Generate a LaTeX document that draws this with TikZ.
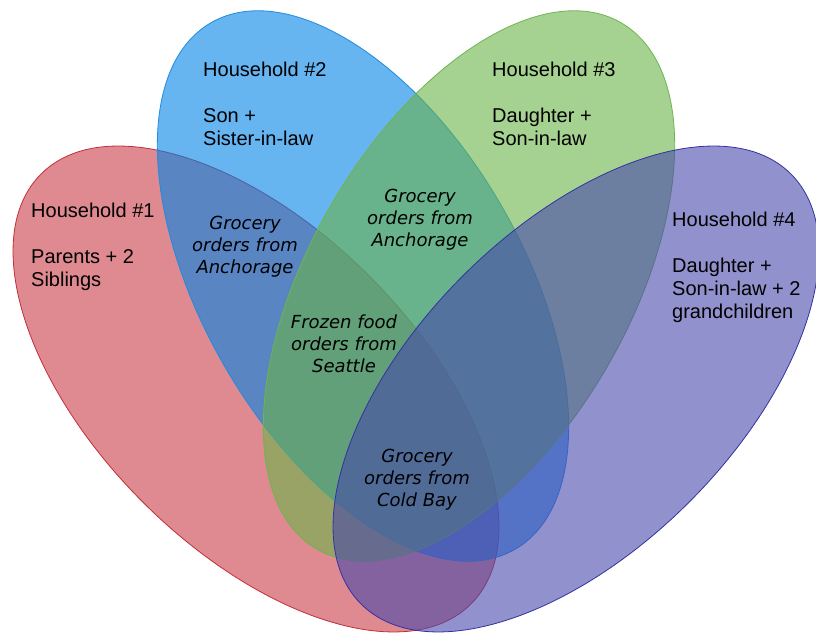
\documentclass[tikz,border=0pt]{standalone}
\usepackage{fontspec}
\setmainfont{Liberation Sans}
\newfontfamily\verd{DejaVu Sans}
\definecolor{redF}{RGB}{200,60,70}
\definecolor{redD}{RGB}{195,45,55}
\definecolor{bluF}{RGB}{0,130,230}
\definecolor{bluD}{RGB}{30,140,225}
\definecolor{grnF}{RGB}{105,180,72}
\definecolor{grnD}{RGB}{110,180,80}
\definecolor{purF}{RGB}{72,72,172}
\definecolor{purD}{RGB}{50,50,160}
\tikzset{
  setshape/.style={line width=0.8pt, fill opacity=0.6},
  hh/.style={font=\fontsize{20}{23}\selectfont, align=left, anchor=base west, inner sep=0pt},
  ov/.style={font=\verd\itshape\fontsize{18}{22}\selectfont, align=center, anchor=base, inner sep=0pt}
}
\begin{document}
\begin{tikzpicture}[x=1pt,y=1pt]
\useasboundingbox (0,0) rectangle (816,634);
\draw[setshape, draw=redD, fill=redF, rotate around={-45:(256,245)}] (256,245) ellipse [x radius=304, y radius=160];
\draw[setshape, draw=bluD, fill=bluF, rotate around={-60:(363,348)}] (363,348) ellipse [x radius=304, y radius=160];
\draw[setshape, draw=grnD, fill=grnF, rotate around={60:(469,348)}] (469,348) ellipse [x radius=304, y radius=160];
\draw[setshape, draw=purD, fill=purF, rotate around={45:(576,245)}] (576,245) ellipse [x radius=304, y radius=160];
\node[hh] (h1) at (31,347) {Household \#1\\[23pt]Parents + 2\\Siblings};
\node[hh] (h2) at (203,488) {Household \#2\\[23pt]Son +\\Sister-in-law};
\node[hh] (h3) at (492,488) {Household \#3\\[23pt]Daughter +\\Son-in-law};
\node[hh] (h4) at (672,315) {Household \#4\\[23pt]Daughter +\\Son-in-law + 2\\grandchildren};
\node[ov] (g1) at (245,360) {Grocery\\orders from\\Anchorage};
\node[ov] (g2) at (420,387) {Grocery\\orders from\\Anchorage};
\node[ov] (fz) at (344,261) {Frozen food\\orders from\\Seattle};
\node[ov] (cb) at (417,127) {Grocery\\orders from\\Cold Bay};
\end{tikzpicture}
\end{document}
